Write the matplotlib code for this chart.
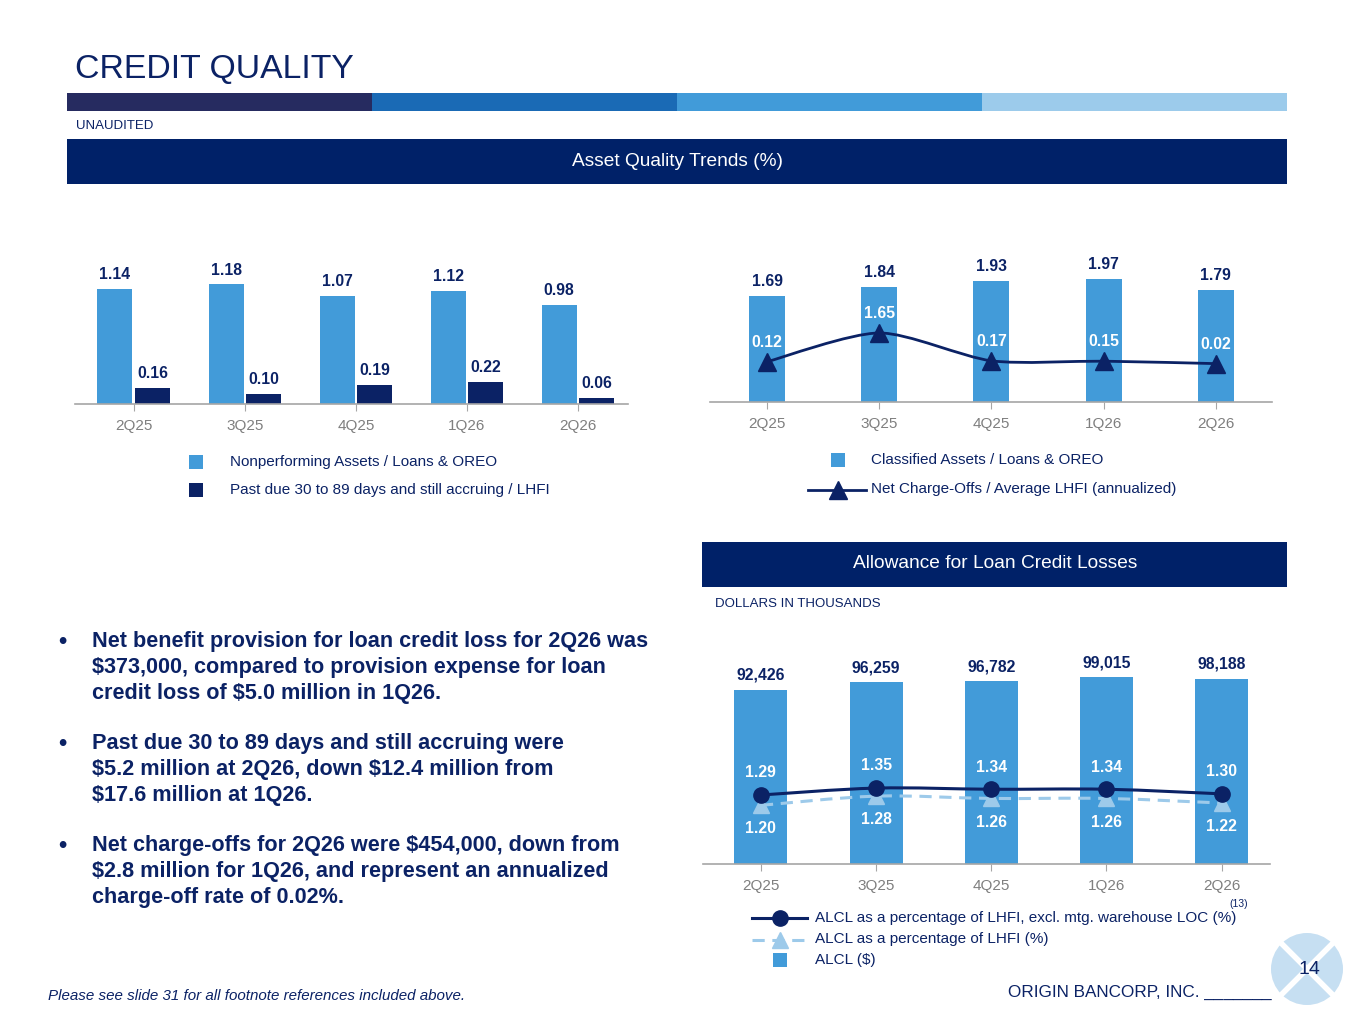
import matplotlib
matplotlib.use('Agg')

import matplotlib.pyplot as plt
from matplotlib.patches import Rectangle, Circle, PathPatch
from matplotlib.lines import Line2D
from matplotlib.path import Path

plt.rcParams['font.family'] = ['Liberation Sans', 'DejaVu Sans']
plt.rcParams['text.parse_math'] = False

# ---- data ----
quarters = ["2Q25", "3Q25", "4Q25", "1Q26", "2Q26"]
npa_pct = [1.14, 1.18, 1.07, 1.12, 0.98]
past_due_pct = [0.16, 0.10, 0.19, 0.22, 0.06]
classified_pct = [1.69, 1.84, 1.93, 1.97, 1.79]
nco_pct = [0.12, 1.65, 0.17, 0.15, 0.02]
alcl_dollars = [92426, 96259, 96782, 99015, 98188]
alcl_excl_pct = [1.29, 1.35, 1.34, 1.34, 1.30]
alcl_lhfi_pct = [1.20, 1.28, 1.26, 1.26, 1.22]

bullets = [
    ["Net benefit provision for loan credit loss for 2Q26 was",
     "$373,000, compared to provision expense for loan",
     "credit loss of $5.0 million in 1Q26."],
    ["Past due 30 to 89 days and still accruing were",
     "$5.2 million at 2Q26, down $12.4 million from",
     "$17.6 million at 1Q26."],
    ["Net charge-offs for 2Q26 were $454,000, down from",
     "$2.8 million for 1Q26, and represent an annualized",
     "charge-off rate of 0.02%."],
]

# ---- colours ----
NAVY = "#0b2265"
HEADER = "#002168"
LIGHT = "#429bd9"
PALE = "#9dcaea"
GREY = "#7f7f7f"
AXIS = "#a6a6a6"

W, H = 1365, 1024
fig = plt.figure(figsize=(W / 100, H / 100), dpi=100)


def fx(x):
    return x / W


def fy(y):
    return 1 - y / H


def px_axes(left, top, right, bottom):
    return fig.add_axes([fx(left), fy(bottom), (right - left) / W, (bottom - top) / H])


def style_axis(ax):
    for s in ["top", "right", "left"]:
        ax.spines[s].set_visible(False)
    ax.spines["bottom"].set_color(AXIS)
    ax.spines["bottom"].set_linewidth(1.2)
    ax.set_yticks([])
    ax.set_xticks(range(len(quarters)))
    ax.set_xticklabels(quarters, color=GREY, fontsize=11)
    ax.tick_params(axis="x", length=5, color=AXIS, pad=6)
    ax.patch.set_alpha(0)


def smooth(ax, xs, ys, k=1 / 6, **kw):
    # Catmull-Rom style curve through the points, drawn as cubic Bezier path
    pts = list(zip(xs, ys))
    verts = [pts[0]]
    codes = [Path.MOVETO]
    n = len(pts)
    for i in range(n - 1):
        p0 = pts[i - 1] if i > 0 else pts[i]
        p1 = pts[i]
        p2 = pts[i + 1]
        p3 = pts[i + 2] if i + 2 < n else pts[i + 1]
        c1 = (p1[0] + (p2[0] - p0[0]) * k, p1[1] + (p2[1] - p0[1]) * k)
        c2 = (p2[0] - (p3[0] - p1[0]) * k, p2[1] - (p3[1] - p1[1]) * k)
        verts += [c1, c2, p2]
        codes += [Path.CURVE4] * 3
    ax.add_patch(PathPatch(Path(verts, codes), fill=False, **kw))


x = list(range(len(quarters)))

# ---- header graphics ----
fig.text(fx(75), fy(70), "CREDIT QUALITY", fontsize=24.3, color=NAVY, va="center", ha="left")
band = ["#262b60", "#1a6ab5", "#419bd9", "#9ccbeb"]
for i, c in enumerate(band):
    fig.add_artist(Rectangle((fx(67 + i * 305), fy(111)), 305 / W, 18 / H,
                             transform=fig.transFigure, color=c, lw=0))
fig.text(fx(76), fy(126), "UNAUDITED", fontsize=9.5, color=NAVY, va="center")

fig.add_artist(Rectangle((fx(67), fy(184)), 1220 / W, 45 / H,
                         transform=fig.transFigure, color=HEADER, lw=0))
fig.text(fx(677), fy(161), "Asset Quality Trends (%)", fontsize=13.8, color="white",
         ha="center", va="center")

fig.add_artist(Rectangle((fx(702), fy(587)), 585 / W, 45 / H,
                         transform=fig.transFigure, color=HEADER, lw=0))
fig.text(fx(995), fy(564), "Allowance for Loan Credit Losses", fontsize=13.8, color="white",
         ha="center", va="center")
fig.text(fx(715), fy(604), "DOLLARS IN THOUSANDS", fontsize=9.5, color=NAVY, va="center")

# ---- upper left chart ----
ax1 = px_axes(75, 250, 628, 404)
style_axis(ax1)
ax1.set_xlim(-0.53, 4.45)
ax1.set_ylim(0, 1.52)
off, bw = 0.17, 0.315
ax1.bar([i - off for i in x], npa_pct, bw, color=LIGHT)
ax1.bar([i + off for i in x], past_due_pct, bw, color=NAVY)
for i in x:
    ax1.annotate(f"{npa_pct[i]:.2f}", (i - off, npa_pct[i]), xytext=(0, 5),
                 textcoords="offset points", ha="center", va="bottom",
                 fontsize=11.3, fontweight="bold", color=NAVY)
    ax1.annotate(f"{past_due_pct[i]:.2f}", (i + off, past_due_pct[i]), xytext=(0, 5),
                 textcoords="offset points", ha="center", va="bottom",
                 fontsize=11.3, fontweight="bold", color=NAVY)

fig.add_artist(Rectangle((fx(189), fy(469)), 14 / W, 14 / H, transform=fig.transFigure,
                         color=LIGHT, lw=0))
fig.text(fx(230), fy(462), "Nonperforming Assets / Loans & OREO", fontsize=11,
         color=NAVY, va="center")
fig.add_artist(Rectangle((fx(189), fy(497)), 14 / W, 14 / H, transform=fig.transFigure,
                         color=NAVY, lw=0))
fig.text(fx(230), fy(490), "Past due 30 to 89 days and still accruing / LHFI", fontsize=11,
         color=NAVY, va="center")

# ---- upper right chart ----
ax2 = px_axes(710, 250, 1272, 402)
style_axis(ax2)
ax2.set_xlim(-0.508, 4.5)
ax2.set_ylim(0, 2.43)
ax2.bar(x, classified_pct, 0.32, color=LIGHT)
for i in x:
    ax2.annotate(f"{classified_pct[i]:.2f}", (i, classified_pct[i]), xytext=(0, 5),
                 textcoords="offset points", ha="center", va="bottom",
                 fontsize=11.3, fontweight="bold", color=NAVY)
ax2b = ax2.twinx()
ax2b.set_ylim(-2.02, 6.06)
ax2b.axis("off")
smooth(ax2b, x, nco_pct, k=0.13, color=NAVY, lw=2)
ax2b.plot(x, nco_pct, ls="none", marker="^", ms=13, color=NAVY)
for i in x:
    ax2b.annotate(f"{nco_pct[i]:.2f}", (i, nco_pct[i]), xytext=(0, 14),
                  textcoords="offset points", ha="center", va="center",
                  fontsize=11.3, fontweight="bold", color="white")

fig.add_artist(Rectangle((fx(831), fy(467)), 14 / W, 14 / H, transform=fig.transFigure,
                         color=LIGHT, lw=0))
fig.text(fx(871), fy(460), "Classified Assets / Loans & OREO", fontsize=11,
         color=NAVY, va="center")
fig.add_artist(Line2D([fx(808), fx(866)], [fy(490), fy(490)], transform=fig.transFigure,
                      color=NAVY, lw=2))
fig.add_artist(Line2D([fx(838)], [fy(490)], transform=fig.transFigure, color=NAVY,
                      marker="^", ms=13, ls="none"))
fig.text(fx(871), fy(489), "Net Charge-Offs / Average LHFI (annualized)", fontsize=11,
         color=NAVY, va="center")

# ---- lower right chart ----
ax3 = px_axes(703, 660, 1270, 864)
style_axis(ax3)
ax3.set_xlim(-0.503, 4.42)
ax3.set_ylim(0, 108120)
ax3.bar(x, alcl_dollars, 0.46, color=LIGHT)
for i in x:
    ax3.annotate(f"{alcl_dollars[i]:,}", (i, alcl_dollars[i]), xytext=(0, 5),
                 textcoords="offset points", ha="center", va="bottom",
                 fontsize=11.3, fontweight="bold", color=NAVY)
ax3b = ax3.twinx()
ax3b.set_ylim(0.69, 2.464)
ax3b.axis("off")
smooth(ax3b, x, alcl_lhfi_pct, color=PALE, lw=2.2, ls=(0, (4, 2.5)))
ax3b.plot(x, alcl_lhfi_pct, ls="none", marker="^", ms=11, color=PALE)
smooth(ax3b, x, alcl_excl_pct, color=NAVY, lw=2.2)
ax3b.plot(x, alcl_excl_pct, ls="none", marker="o", ms=11, color=NAVY)
for i in x:
    ax3b.annotate(f"{alcl_excl_pct[i]:.2f}", (i, alcl_excl_pct[i]), xytext=(0, 16),
                  textcoords="offset points", ha="center", va="center",
                  fontsize=11.3, fontweight="bold", color="white")
    ax3b.annotate(f"{alcl_lhfi_pct[i]:.2f}", (i, alcl_lhfi_pct[i]), xytext=(0, -17),
                  textcoords="offset points", ha="center", va="center",
                  fontsize=11.3, fontweight="bold", color="white")

fig.add_artist(Line2D([fx(752), fx(807)], [fy(918), fy(918)], transform=fig.transFigure,
                      color=NAVY, lw=2.2))
fig.add_artist(Line2D([fx(780)], [fy(918)], transform=fig.transFigure, color=NAVY,
                      marker="o", ms=11, ls="none"))
fig.text(fx(815), fy(918), "ALCL as a percentage of LHFI, excl. mtg. warehouse LOC (%)",
         fontsize=11, color=NAVY, va="center")
fig.text(fx(1229), fy(904), "(13)", fontsize=7.5, color=NAVY, va="center")
fig.add_artist(Line2D([fx(752), fx(807)], [fy(940), fy(940)], transform=fig.transFigure,
                      color=PALE, lw=2.2, ls=(0, (4, 2.5))))
fig.add_artist(Line2D([fx(780)], [fy(940)], transform=fig.transFigure, color=PALE,
                      marker="^", ms=11, ls="none"))
fig.text(fx(815), fy(939), "ALCL as a percentage of LHFI (%)", fontsize=11,
         color=NAVY, va="center")
fig.add_artist(Rectangle((fx(773), fy(967)), 14 / W, 14 / H, transform=fig.transFigure,
                         color=LIGHT, lw=0))
fig.text(fx(815), fy(960), "ALCL ($)", fontsize=11, color=NAVY, va="center")

# ---- bullet text ----
starts = [642, 744, 845]
for b, lines in enumerate(bullets):
    y0 = starts[b]
    fig.text(fx(62), fy(y0), "\u2022", fontsize=17, color=NAVY, va="center", ha="center",
             fontweight="bold")
    for j, line in enumerate(lines):
        fig.text(fx(92), fy(y0 + 26 * j), line, fontsize=15.6, color=NAVY,
                 fontweight="bold", va="center")

# ---- footer ----
fig.text(fx(48), fy(996), "Please see slide 31 for all footnote references included above.",
         fontsize=10.9, color=NAVY, style="italic", va="center")
fig.text(fx(1008), fy(992), "ORIGIN BANCORP, INC. _______", fontsize=12.3, color=NAVY,
         va="center")

# page badge (drawn in inches so the circle stays round)
cx, cy = 13.07, (H - 969) / 100
inch = fig.dpi_scale_trans
fig.add_artist(Circle((cx, cy), 0.36, transform=inch, color="#c6dff2", lw=0))
for dx in (-1, 1):
    fig.add_artist(Line2D([cx - 0.245 * dx, cx + 0.245 * dx], [cy + 0.245, cy - 0.245],
                          transform=inch, color="white", lw=4))
fig.text(fx(1309), fy(970), "14", fontsize=14, color=NAVY, ha="center", va="center")

fig.savefig("out.png", dpi=100)
